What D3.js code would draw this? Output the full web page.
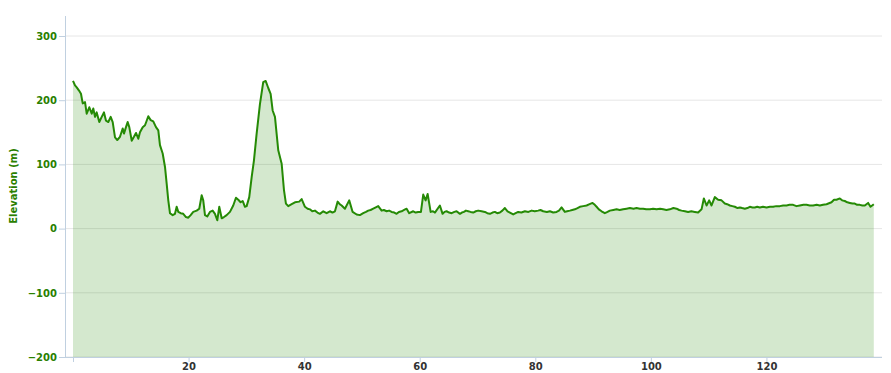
<!DOCTYPE html>
<html>
<head>
<meta charset="utf-8">
<script src="https://cdn.jsdelivr.net/npm/d3@7"></script>
<style>
  body { margin: 0; background: #fff; }
  text { font-family: "DejaVu Sans", Verdana, sans-serif; }
</style>
</head>
<body>
<div id="chart"></div>
<script>
let width = 891;
let height = 373;
let margin = ({top: 16, right: 9, bottom: 16, left: 65});

// distance along the route (km) and elevation (m)
let distKm = [0, 0.35, 0.64, 1.04, 1.38, 1.68, 2.08, 2.37, 2.82, 3.24, 3.51, 3.81, 4.10, 4.55, 4.97,
    5.36, 5.71, 6.11, 6.52, 6.87, 7.27, 7.66, 8.13, 8.60, 8.82, 9.17, 9.46, 9.74, 10.16, 10.55,
    10.90, 11.30, 11.59, 12.06, 12.46, 12.75, 13.03, 13.44, 13.89, 14.36, 14.76, 15.05, 15.52, 15.92, 16.21,
    16.49, 16.78, 17.25, 17.65, 17.94, 18.22, 18.63, 19.08, 19.55, 19.95, 20.36, 20.81, 21.40, 21.85, 22.27,
    22.54, 22.84, 23.24, 23.70, 24.17, 24.57, 24.97, 25.31, 25.73, 26.12, 26.59, 27.16, 27.73, 28.20, 28.60,
    29.01, 29.36, 29.76, 30.05, 30.50, 30.92, 31.31, 31.78, 32.35, 32.92, 33.34, 33.79, 34.20, 34.55, 34.95,
    35.52, 36.11, 36.51, 36.85, 37.25, 37.84, 38.41, 39.15, 39.57, 40.14, 40.6, 41.00, 41.4, 41.87, 42.3,
    42.73, 43.31, 43.89, 44.46, 44.9, 45.33, 45.80, 46.15, 46.49, 47.06, 47.80, 48.39, 49.08, 49.65, 50.22,
    50.7, 51.09, 51.5, 51.96, 52.4, 52.82, 53.41, 53.8, 54.27, 54.7, 55.14, 55.6, 56.00, 56.4, 56.87,
    57.3, 57.73, 58.18, 58.88, 59.3, 59.74, 60.21, 60.61, 61.02, 61.37, 61.89, 62.3, 62.63, 63.49, 63.96,
    64.3, 64.65, 65.1, 65.52, 66.0, 66.38, 66.96, 67.3, 67.65, 68.0, 68.39, 68.8, 69.26, 69.7, 70.12,
    70.7, 71.28, 71.7, 72.15, 72.6, 73.01, 73.4, 73.88, 74.3, 74.74, 75.2, 75.61, 76.18, 76.6, 77.04,
    77.6, 78.20, 78.8, 79.36, 79.9, 80.50, 80.9, 81.37, 82.0, 82.53, 83.1, 83.68, 84.1, 84.55, 85.12,
    85.5, 85.99, 86.4, 86.85, 87.3, 87.72, 88.3, 88.88, 89.4, 89.91, 90.3, 90.61, 91.0, 91.47, 92.04,
    92.5, 92.91, 93.5, 94.07, 94.6, 95.21, 95.8, 96.37, 97.0, 97.53, 98.1, 98.67, 99.2, 99.83, 100.4,
    100.99, 101.6, 102.13, 102.7, 103.29, 103.9, 104.45, 104.9, 105.31, 105.9, 106.45, 107.0, 107.61, 108.18, 108.77,
    109.17, 109.64, 110.09, 110.50, 111.07, 111.64, 112.23, 112.80, 113.2, 113.67, 114.1, 114.53, 115.0, 115.40, 115.8,
    116.26, 116.7, 117.13, 117.6, 117.99, 118.4, 118.86, 119.4, 120.02, 120.6, 121.16, 121.7, 122.32, 122.9, 123.48,
    124.0, 124.62, 125.2, 125.78, 126.4, 126.94, 127.5, 128.08, 128.7, 129.24, 129.8, 130.40, 131.26, 131.7, 132.13,
    132.70, 133.1, 133.56, 134.0, 134.43, 134.9, 135.29, 135.7, 136.16, 136.6, 137.02, 137.60, 138.01, 138.3, 138.58];

let elevM = [230, 223, 220, 215, 210, 195, 197, 179, 189, 179, 187, 174, 181, 166, 174,
    181, 168, 166, 174, 166, 142, 138, 143, 156, 148, 158, 166, 158, 137, 143,
    149, 140, 150, 158, 161, 168, 175, 169, 167, 158, 153, 130, 117, 96, 70,
    44, 24, 21, 23, 34, 26, 24, 23, 18, 17, 21, 26, 28, 31, 52,
    44, 21, 19, 26, 28, 23, 13, 34, 16, 18, 21, 26, 36, 48, 45,
    41, 43, 34, 35, 49, 80, 106, 148, 194, 228, 230, 219, 210, 184, 174,
    122, 101, 60, 39, 35, 38, 41, 42, 46, 34, 31, 30, 27, 28, 25,
    23, 27, 24, 27, 25, 27, 42, 38, 36, 31, 44, 26, 22, 21, 24,
    26, 28, 29, 31, 33, 35, 28, 29, 27, 28, 26, 25, 23, 26, 27,
    29, 31, 24, 27, 25, 26, 26, 53, 44, 54, 26, 27, 25, 36, 23,
    26, 27, 25, 24, 26, 27, 23, 25, 26, 28, 27, 26, 25, 27, 28,
    27, 26, 24, 23, 25, 26, 24, 25, 28, 32, 27, 25, 22, 24, 26,
    25, 27, 26, 28, 27, 28, 29, 27, 26, 27, 25, 26, 28, 33, 26,
    27, 28, 29, 30, 32, 34, 35, 36, 38, 40, 37, 34, 30, 27, 24,
    26, 28, 29, 30, 29, 30, 31, 32, 31, 32, 31, 31, 30, 30, 31,
    30, 31, 30, 29, 30, 32, 31, 29, 28, 27, 26, 27, 26, 25, 30,
    47, 36, 44, 36, 49, 45, 44, 39, 38, 36, 35, 34, 32, 33, 32,
    31, 32, 34, 33, 33, 34, 33, 34, 33, 34, 34, 35, 35, 36, 36,
    37, 37, 35, 36, 37, 37, 36, 36, 37, 36, 37, 38, 41, 45, 45,
    47, 44, 43, 41, 40, 39, 39, 37, 37, 36, 36, 40, 34, 36, 38];

let yTicks = [-200, -100, 0, 100, 200, 300];
let xTicks = [0, 20, 40, 60, 80, 100, 120];

let data = distKm.map((d, i) => ({dist: d, elev: elevM[i]}));

let svg = d3.select("#chart")
    .append("svg")
    .attr("width", width)
    .attr("height", height);

let xScale = d3.scaleLinear()
    .domain([0, 140])
    .range([73, width - margin.right]);

let yScale = d3.scaleLinear()
    .domain([-200, 300])
    .range([357, 36]);

// horizontal grid lines
svg.append("g")
    .selectAll("line")
    .data(yTicks)
    .enter()
    .append("line")
    .attr("x1", margin.left)
    .attr("x2", width - margin.right)
    .attr("y1", d => yScale(d))
    .attr("y2", d => yScale(d))
    .attr("stroke", "#e6e6e6")
    .attr("stroke-width", 1);

let area = d3.area()
    .x(d => xScale(d.dist))
    .y0(yScale(-200))
    .y1(d => yScale(d.elev));

let line = d3.line()
    .x(d => xScale(d.dist))
    .y(d => yScale(d.elev));

svg.append("path")
    .datum(data)
    .attr("d", area)
    .attr("fill", "#2a8a08")
    .attr("fill-opacity", 0.2);

svg.append("path")
    .datum(data)
    .attr("d", line)
    .attr("fill", "none")
    .attr("stroke", "#258a05")
    .attr("stroke-width", 2)
    .attr("stroke-linejoin", "round");

// y axis
let yAxis = d3.axisLeft(yScale)
    .tickValues(yTicks)
    .tickSize(6)
    .tickPadding(2);

let gy = svg.append("g")
    .attr("transform", "translate(" + margin.left + ",0)")
    .call(yAxis);
gy.select(".domain").remove();
gy.selectAll(".tick line").attr("stroke", "#c0d0e0");
gy.selectAll(".tick text")
    .attr("fill", "#2a8000")
    .style("font-size", "10px")
    .style("font-weight", "bold");

svg.append("line")
    .attr("x1", margin.left + 0.5)
    .attr("x2", margin.left + 0.5)
    .attr("y1", margin.top)
    .attr("y2", 357)
    .attr("stroke", "#c0d0e0");

// x axis
let xAxis = d3.axisBottom(xScale)
    .tickValues(xTicks)
    .tickFormat(d => d === 0 ? "" : d)
    .tickSize(5)
    .tickPadding(1)
    .tickSizeOuter(0);

let gx = svg.append("g")
    .attr("transform", "translate(0,357)")
    .call(xAxis);
gx.select(".domain").remove();
gx.selectAll(".tick line").attr("stroke", "#c0d0e0");
gx.selectAll(".tick text")
    .attr("fill", "#333")
    .style("font-size", "10px")
    .style("font-weight", "bold");

svg.append("line")
    .attr("x1", margin.left)
    .attr("x2", width - margin.right)
    .attr("y1", 357.5)
    .attr("y2", 357.5)
    .attr("stroke", "#c0d0e0");

// axis title
svg.append("text")
    .attr("transform", "translate(17,186) rotate(-90)")
    .style("text-anchor", "middle")
    .style("font-size", "10px")
    .style("font-weight", "bold")
    .attr("fill", "#2a8000")
    .text("Elevation (m)");
</script>
</body>
</html>
